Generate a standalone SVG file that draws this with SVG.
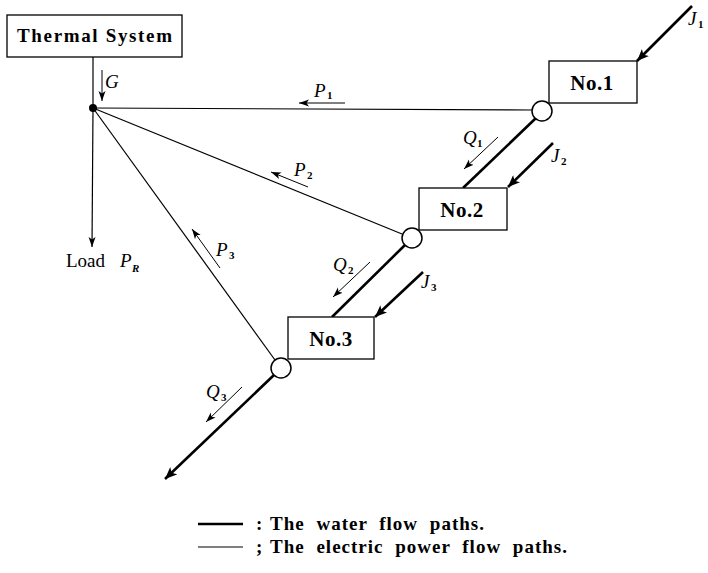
<svg xmlns="http://www.w3.org/2000/svg" width="708" height="573" viewBox="0 0 708 573">
<defs>
<marker id="thick" markerUnits="userSpaceOnUse" markerWidth="14" markerHeight="10" refX="12" refY="5" orient="auto"><path d="M0,0 L12,5 L0,10 L3,5 Z" fill="#000"/></marker>
<marker id="thin" markerUnits="userSpaceOnUse" markerWidth="12" markerHeight="8" refX="10" refY="4" orient="auto"><path d="M0,0.5 L10,4 L0,7.5 L2.5,4 Z" fill="#000"/></marker>
</defs>
<style>
.box{fill:#fff;stroke:#000;stroke-width:1.3}
.water{stroke:#000;stroke-width:2.6;fill:none}
.power{stroke:#000;stroke-width:1.2;fill:none}
.small{stroke:#000;stroke-width:1;fill:none}
.circ{fill:#fff;stroke:#000;stroke-width:1.5}
.lbl{font-family:"Liberation Serif",serif;font-weight:bold;font-size:19px;fill:#000}
.no{font-family:"Liberation Serif",serif;font-weight:bold;font-size:21px;fill:#000;text-anchor:middle;letter-spacing:0.5px}
.load{font-family:"Liberation Serif",serif;font-size:19px;fill:#000}
.math{font-family:"Liberation Serif",serif;font-style:italic;font-size:19px;fill:#000}
.sub{font-family:"Liberation Serif",serif;font-weight:bold;font-size:11px;fill:#000}
.leg{font-family:"Liberation Serif",serif;font-weight:bold;font-size:19px;fill:#000;letter-spacing:1px;word-spacing:6px}
</style>
<g id="connectors">
<line class="power" x1="93" y1="57" x2="93" y2="108"/>
<line class="power" x1="93" y1="108" x2="92" y2="247" marker-end="url(#thin)"/>
<line class="power" x1="93" y1="108" x2="532" y2="110"/>
<line class="power" x1="93" y1="108" x2="402" y2="234"/>
<line class="power" x1="93" y1="108" x2="275" y2="360"/>
<line class="water" x1="692" y1="6" x2="637" y2="61" marker-end="url(#thick)"/>
<line class="water" x1="536" y1="118" x2="463" y2="188"/>
<line class="water" x1="553" y1="143" x2="508" y2="187" marker-end="url(#thick)"/>
<line class="water" x1="405" y1="245" x2="332" y2="317"/>
<line class="water" x1="423" y1="272" x2="375" y2="317" marker-end="url(#thick)"/>
<line class="water" x1="274" y1="375" x2="165" y2="479" marker-end="url(#thick)"/>
<line class="small" x1="102" y1="70" x2="102" y2="101" marker-end="url(#thin)"/>
<line class="small" x1="345" y1="103" x2="299" y2="103" marker-end="url(#thin)"/>
<line class="small" x1="498" y1="137" x2="464" y2="169" marker-end="url(#thin)"/>
<line class="small" x1="308" y1="187" x2="271" y2="172" marker-end="url(#thin)"/>
<line class="small" x1="370" y1="262" x2="333" y2="297" marker-end="url(#thin)"/>
<line class="small" x1="220" y1="268" x2="192" y2="229" marker-end="url(#thin)"/>
<line class="small" x1="242" y1="387" x2="206" y2="422" marker-end="url(#thin)"/>
</g>
<g id="thermal">
<rect class="box" x="7" y="15" width="175" height="42"/>
<text class="lbl" x="17" y="42" textLength="155" lengthAdjust="spacing">Thermal System</text>
</g>
<g id="bus"><circle cx="93" cy="108" r="4" fill="#000"/></g>
<g id="no1">
<rect class="box" x="549" y="61" width="88" height="42"/>
<text class="no" x="592" y="90">No.1</text>
<circle class="circ" cx="542" cy="111" r="10"/>
</g>
<g id="no2">
<rect class="box" x="419" y="188" width="88" height="42"/>
<text class="no" x="462" y="217">No.2</text>
<circle class="circ" cx="412" cy="238" r="10"/>
</g>
<g id="no3">
<rect class="box" x="288" y="317" width="86" height="42"/>
<text class="no" x="331" y="346">No.3</text>
<circle class="circ" cx="281" cy="368" r="10"/>
</g>
<g id="labels">
<text class="math" x="105" y="88">G</text>
<text class="math" x="314" y="97">P</text><text class="sub" x="327" y="99">1</text>
<text class="math" x="463" y="144">Q</text><text class="sub" x="477" y="147">1</text>
<text class="math" x="551" y="162">J</text><text class="sub" x="561" y="165">2</text>
<text class="math" x="294" y="176">P</text><text class="sub" x="307" y="179">2</text>
<text class="math" x="333" y="271">Q</text><text class="sub" x="348" y="274">2</text>
<text class="math" x="421" y="288">J</text><text class="sub" x="431" y="291">3</text>
<text class="math" x="216" y="256">P</text><text class="sub" x="229" y="259">3</text>
<text class="math" x="206" y="398">Q</text><text class="sub" x="221" y="401">3</text>
<text class="math" x="688" y="25">J</text><text class="sub" x="698" y="28">1</text>
<text class="load" x="66" y="267">Load</text>
<text class="math" x="120" y="267">P</text><text class="sub" x="132" y="272" font-style="italic">R</text>
</g>
<g id="legend">
<line class="water" x1="198" y1="524" x2="243" y2="524"/>
<line class="power" x1="198" y1="547" x2="243" y2="547"/>
<text class="leg" x="256" y="530">:</text>
<text class="leg" x="270" y="530">The water flow paths.</text>
<text class="leg" x="256" y="553">;</text>
<text class="leg" x="270" y="553">The electric power flow paths.</text>
</g>
</svg>
